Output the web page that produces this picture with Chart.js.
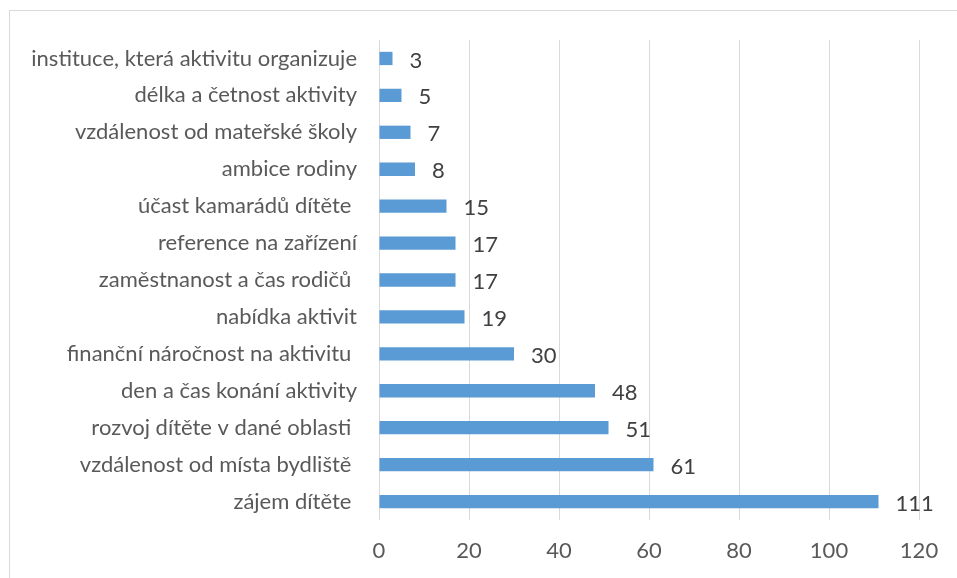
<!DOCTYPE html>
<html>
<head>
<meta charset="utf-8">
<script src="https://cdn.jsdelivr.net/npm/chart.js@4/dist/chart.umd.min.js"></script>
<style>
    html, body { margin: 0; padding: 0; background: #fff; }
    #wrap { position: relative; width: 957px; height: 578px; overflow: hidden; }
    #frame { position: absolute; left: 9px; top: 10px; width: 980px; height: 600px; border: 1px solid #d9d9d9; }
    canvas { position: absolute; left: 0; top: 0; }
</style>
</head>
<body>
<div id="wrap">
    <div id="frame"></div>
    <canvas id="chart-bar" width="957" height="578"></canvas>
</div>
<script>
// ── Data ─────────────────────────────────────────────
const categories = [
    'instituce, která aktivitu organizuje',
    'délka a četnost aktivity',
    'vzdálenost od mateřské školy',
    'ambice rodiny',
    'účast kamarádů dítěte ',
    'reference na zařízení',
    'zaměstnanost a čas rodičů ',
    'nabídka aktivit',
    'finanční náročnost na aktivitu ',
    'den a čas konání aktivity',
    'rozvoj dítěte v dané oblasti ',
    'vzdálenost od místa bydliště ',
    'zájem dítěte '
];
const counts = [3, 5, 7, 8, 15, 17, 17, 19, 30, 48, 51, 61, 111];
const xTicks = [0, 20, 40, 60, 80, 100, 120];

// draw value labels to the right of each bar
const valueLabels = {
    id: 'valueLabels',
    afterDatasetsDraw(chart) {
        const { ctx } = chart;
        const meta = chart.getDatasetMeta(0);
        ctx.save();
        ctx.font = '22px Lato';
        ctx.fillStyle = '#404040';
        ctx.textAlign = 'left';
        ctx.textBaseline = 'middle';
        meta.data.forEach((bar, i) => {
            ctx.fillText(String(counts[i]), bar.x + 17, bar.y + 2);
        });
        ctx.restore();
    }
};

new Chart(document.getElementById('chart-bar'), {
    type: 'bar',
    data: {
        labels: categories,
        datasets: [{
            data: counts,
            backgroundColor: '#5b9bd5',
            borderWidth: 0,
            categoryPercentage: 1,
            barPercentage: 0.36,
        }]
    },
    options: {
        indexAxis: 'y',
        responsive: false,
        animation: false,
        layout: { padding: { top: 40, right: 38, left: 0, bottom: 0 } },
        plugins: {
            legend: { display: false },
            tooltip: { enabled: false }
        },
        scales: {
            x: {
                min: 0,
                max: 120,
                afterBuildTicks: scale => { scale.ticks = xTicks.map(v => ({ value: v })); },
                afterFit: scale => { scale.height = 58; },
                grid: { color: '#d9d9d9', lineWidth: 1, drawTicks: false },
                border: { display: false },
                ticks: { padding: 18, color: '#595959', font: { family: 'Lato', size: 22 } }
            },
            y: {
                afterFit: scale => { scale.width = 379; },
                grid: { display: false, drawTicks: false },
                border: { display: false },
                ticks: { padding: 22, color: '#595959', font: { family: 'Lato', size: 22 }, autoSkip: false }
            }
        }
    },
    plugins: [valueLabels]
});
</script>
</body>
</html>
